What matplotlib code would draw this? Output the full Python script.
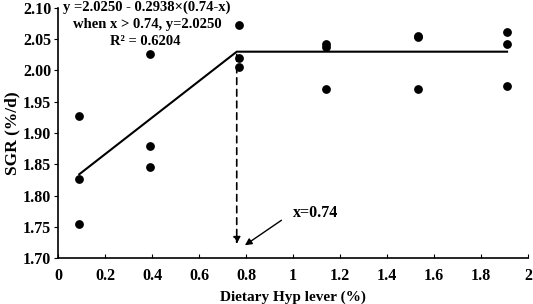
import matplotlib.pyplot as plt

# Dietary Hyp level (%) and SGR (%/d) observations
hyp_level = [0.09, 0.09, 0.09, 0.39, 0.39, 0.39, 0.77, 0.77, 0.77,
             1.14, 1.14, 1.14, 1.53, 1.53, 1.53, 1.91, 1.91, 1.91]
sgr = [1.927, 1.827, 1.755, 2.027, 1.880, 1.845, 2.072, 2.020, 2.005,
       2.043, 2.038, 1.970, 2.055, 2.053, 1.970, 2.062, 2.042, 1.975]

# broken-line fit
fit_x = [0.09, 0.76, 1.91]
fit_y = [1.834, 2.030, 2.030]
break_x = 0.76
break_y = 2.030
arrow_tip_y = 1.718

plt.rcParams["font.family"] = ["Liberation Serif", "DejaVu Serif"]
plt.rcParams["font.weight"] = "bold"

fig = plt.figure(figsize=(5.33, 3.04), dpi=100)
ax = fig.add_axes([0.109, 0.151, 0.882, 0.823])

ax.scatter(hyp_level, sgr, s=28, color="black", zorder=3)
ax.plot(fit_x, fit_y, color="black", linewidth=1.5)

# dashed arrow down from the breakpoint
ax.annotate("", xy=(break_x, arrow_tip_y), xytext=(break_x, break_y),
            arrowprops=dict(arrowstyle="-|>", color="black", linestyle=(0, (4, 3)),
                            linewidth=1.2, mutation_scale=10))
# labelled arrow
ax.annotate("", xy=(0.785, 1.718), xytext=(0.96, 1.763),
            arrowprops=dict(arrowstyle="-|>", color="black", linewidth=1.0,
                            mutation_scale=10))
ax.text(1.0, 1.772, "x=0.74", fontsize=11.5, fontweight="bold", va="center")

ax.text(0.02, 2.101, "y =2.0250 - 0.2938×(0.74-x)", fontsize=10.5,
        fontweight="bold", va="center")
ax.text(0.065, 2.073, "when x > 0.74, y=2.0250", fontsize=10.5,
        fontweight="bold", va="center")
ax.text(0.22, 2.046, "R² = 0.6204", fontsize=10.5, fontweight="bold", va="center")

ax.set_xlim(0, 2)
ax.set_ylim(1.70, 2.10)
ax.set_xticks([0, 0.2, 0.4, 0.6, 0.8, 1, 1.2, 1.4, 1.6, 1.8, 2])
ax.set_xticklabels(["0", "0.2", "0.4", "0.6", "0.8", "1", "1.2", "1.4", "1.6", "1.8", "2"])
ax.set_yticks([1.70, 1.75, 1.80, 1.85, 1.90, 1.95, 2.00, 2.05, 2.10])
ax.yaxis.set_major_formatter(plt.FormatStrFormatter("%.2f"))
ax.tick_params(axis="x", direction="in", length=3, labelsize=11.5, pad=7)
ax.tick_params(axis="y", direction="out", length=3, labelsize=11.5, pad=2)
for lab in ax.get_xticklabels() + ax.get_yticklabels():
    lab.set_fontweight("bold")

ax.spines["top"].set_visible(False)
ax.spines["right"].set_visible(False)
ax.spines["left"].set_linewidth(1.2)
ax.spines["bottom"].set_linewidth(1.2)

ax.set_xlabel("Dietary Hyp lever (%)", fontsize=11, fontweight="bold", labelpad=5)
ax.set_ylabel("SGR (%/d)", fontsize=12.5, fontweight="bold", labelpad=2)

fig.savefig("out.png", dpi=100)
